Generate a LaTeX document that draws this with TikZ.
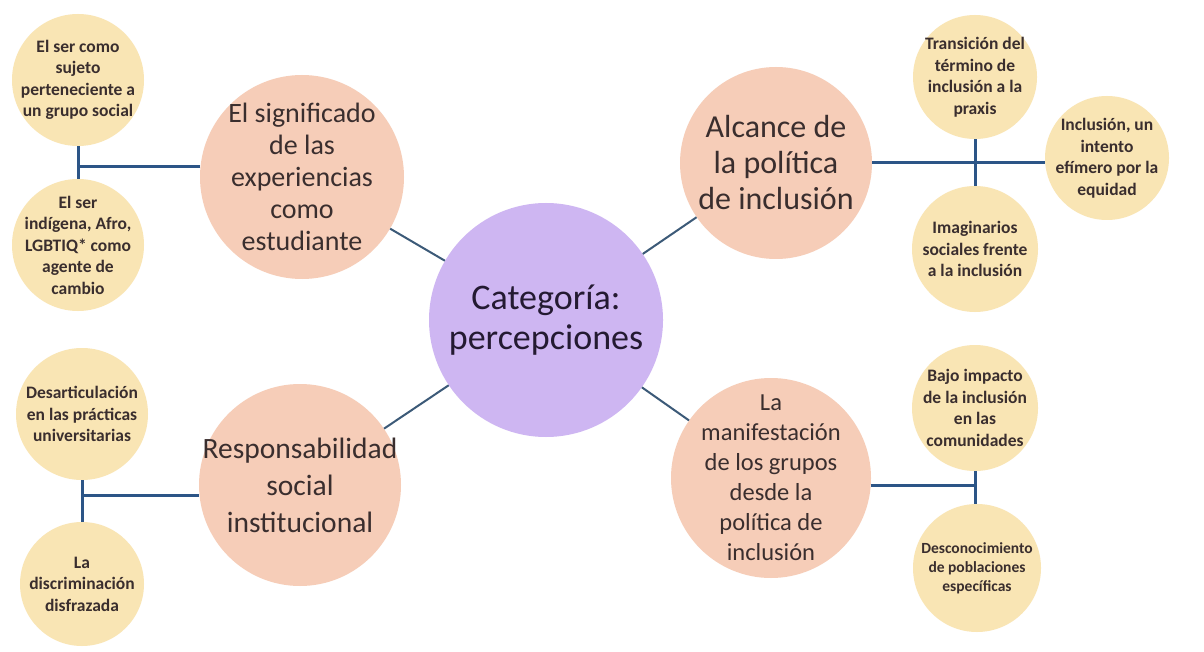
\documentclass[tikz,border=0pt]{standalone}
\usepackage{fontspec}
\setmainfont{Carlito}
\definecolor{peach}{RGB}{246,205,184}
\definecolor{sand}{RGB}{249,229,180}
\definecolor{lav}{RGB}{206,182,242}
\definecolor{spoke}{RGB}{60,90,120}
\definecolor{link}{RGB}{44,85,135}
\definecolor{ink}{RGB}{58,46,46}
\definecolor{inkc}{RGB}{36,26,50}
\begin{document}
\begin{tikzpicture}[x=1pt,y=-1pt,
  mainc/.style={circle,fill=lav,inner sep=0pt,minimum size=234pt},
  sub/.style={circle,fill=peach,inner sep=0pt},
  leaf/.style={circle,fill=sand,inner sep=0pt},
  ctxt/.style={inner sep=0pt,text=inkc,align=center,font=\fontsize{36}{40}\selectfont},
  stxt/.style={inner sep=0pt,text=ink,align=center},
  ltxt/.style={inner sep=0pt,text=ink,align=center,font=\bfseries\fontsize{17.5}{21.5}\selectfont},
  spk/.style={draw=spoke,line width=2pt},
  lnk/.style={draw=link,line width=3pt}]
\useasboundingbox (0,0) rectangle (1204,652);
\fill[white] (0,0) rectangle (1204,652);
% central
\node[mainc] (c) at (546,320) {};
\node[ctxt] (ct) at (c) {Categoría:\\percepciones};
% peach circles
\node[sub,minimum size=204pt] (tlp) at (302,177) {};
\node[sub,minimum size=192pt] (trp) at (776,163) {};
\node[sub,minimum size=202pt] (blp) at (300,485) {};
\node[sub,minimum size=200pt] (brp) at (771,478) {};
\node[stxt,font=\fontsize{28}{32}\selectfont] (tlpt) at (tlp) {El significado\\de las\\experiencias\\como\\estudiante};
\node[stxt,font=\fontsize{32}{36}\selectfont] (trpt) at (trp) {Alcance de\\la política\\de inclusión};
\node[stxt,font=\fontsize{29.5}{37}\selectfont] (blpt) at (blp) {Responsabilidad\\social\\institucional};
\node[stxt,font=\fontsize{24.5}{30}\selectfont] (brpt) at (brp) {La\\manifestación\\de los grupos\\desde la\\política de\\inclusión};
% leaves
\node[leaf,minimum size=132pt] (tl1) at (78,80) {};
\node[leaf,minimum size=132pt] (tl2) at (78,245) {};
\node[leaf,minimum size=124pt] (tr1) at (975,77) {};
\node[leaf,minimum size=124pt] (tr2) at (1107,158) {};
\node[leaf,minimum size=126pt] (tr3) at (975,249) {};
\node[leaf,minimum size=132pt] (bl1) at (82,414) {};
\node[leaf,minimum size=124pt] (bl2) at (82,584) {};
\node[leaf,minimum size=126pt] (br1) at (975,408) {};
\node[leaf,minimum size=128pt] (br2) at (977,568) {};
\node[ltxt] (tl1t) at (tl1) {El ser como\\sujeto\\perteneciente a\\un grupo social};
\node[ltxt] (tl2t) at (tl2) {El ser\\indígena, Afro,\\LGBTIQ* como\\agente de\\cambio};
\node[ltxt] (tr1t) at (tr1) {Transición del\\término de\\inclusión a la\\praxis};
\node[ltxt] (tr2t) at (tr2) {Inclusión, un\\intento\\efímero por la\\equidad};
\node[ltxt] (tr3t) at (tr3) {Imaginarios\\sociales frente\\a la inclusión};
\node[ltxt] (bl1t) at (bl1) {Desarticulación\\en las prácticas\\universitarias};
\node[ltxt] (bl2t) at (bl2) {La\\discriminación\\disfrazada};
\node[ltxt] (br1t) at (br1) {Bajo impacto\\de la inclusión\\en las\\comunidades};
\node[ltxt,font=\bfseries\fontsize{15.5}{19}\selectfont] (br2t) at (br2) {Desconocimiento\\de poblaciones\\específicas};
% spokes
\draw[spk] (c) -- (tlp);
\draw[spk] (c) -- (trp);
\draw[spk] (c) -- (blp);
\draw[spk] (c) -- (brp);
% T connectors
\coordinate (jtl) at (78,167);
\draw[lnk] (tl1.south) -- (tl2.north);
\draw[lnk] (jtl) -- (jtl -| tlp.west);
\draw[lnk] (trp.east) -- (trp.east -| tr2.west);
\draw[lnk] (tr1.south) -- (tr3.north);
\coordinate (jbl) at (82,495);
\draw[lnk] (bl1.south) -- (bl2.north);
\draw[lnk] (jbl) -- (jbl -| blp.west);
\coordinate (jbr) at (976,485);
\draw[lnk] (jbr -| brp.east) -- (jbr);
\draw[lnk] (br1.south) -- (br1.south |- br2.north);
\end{tikzpicture}
\end{document}
